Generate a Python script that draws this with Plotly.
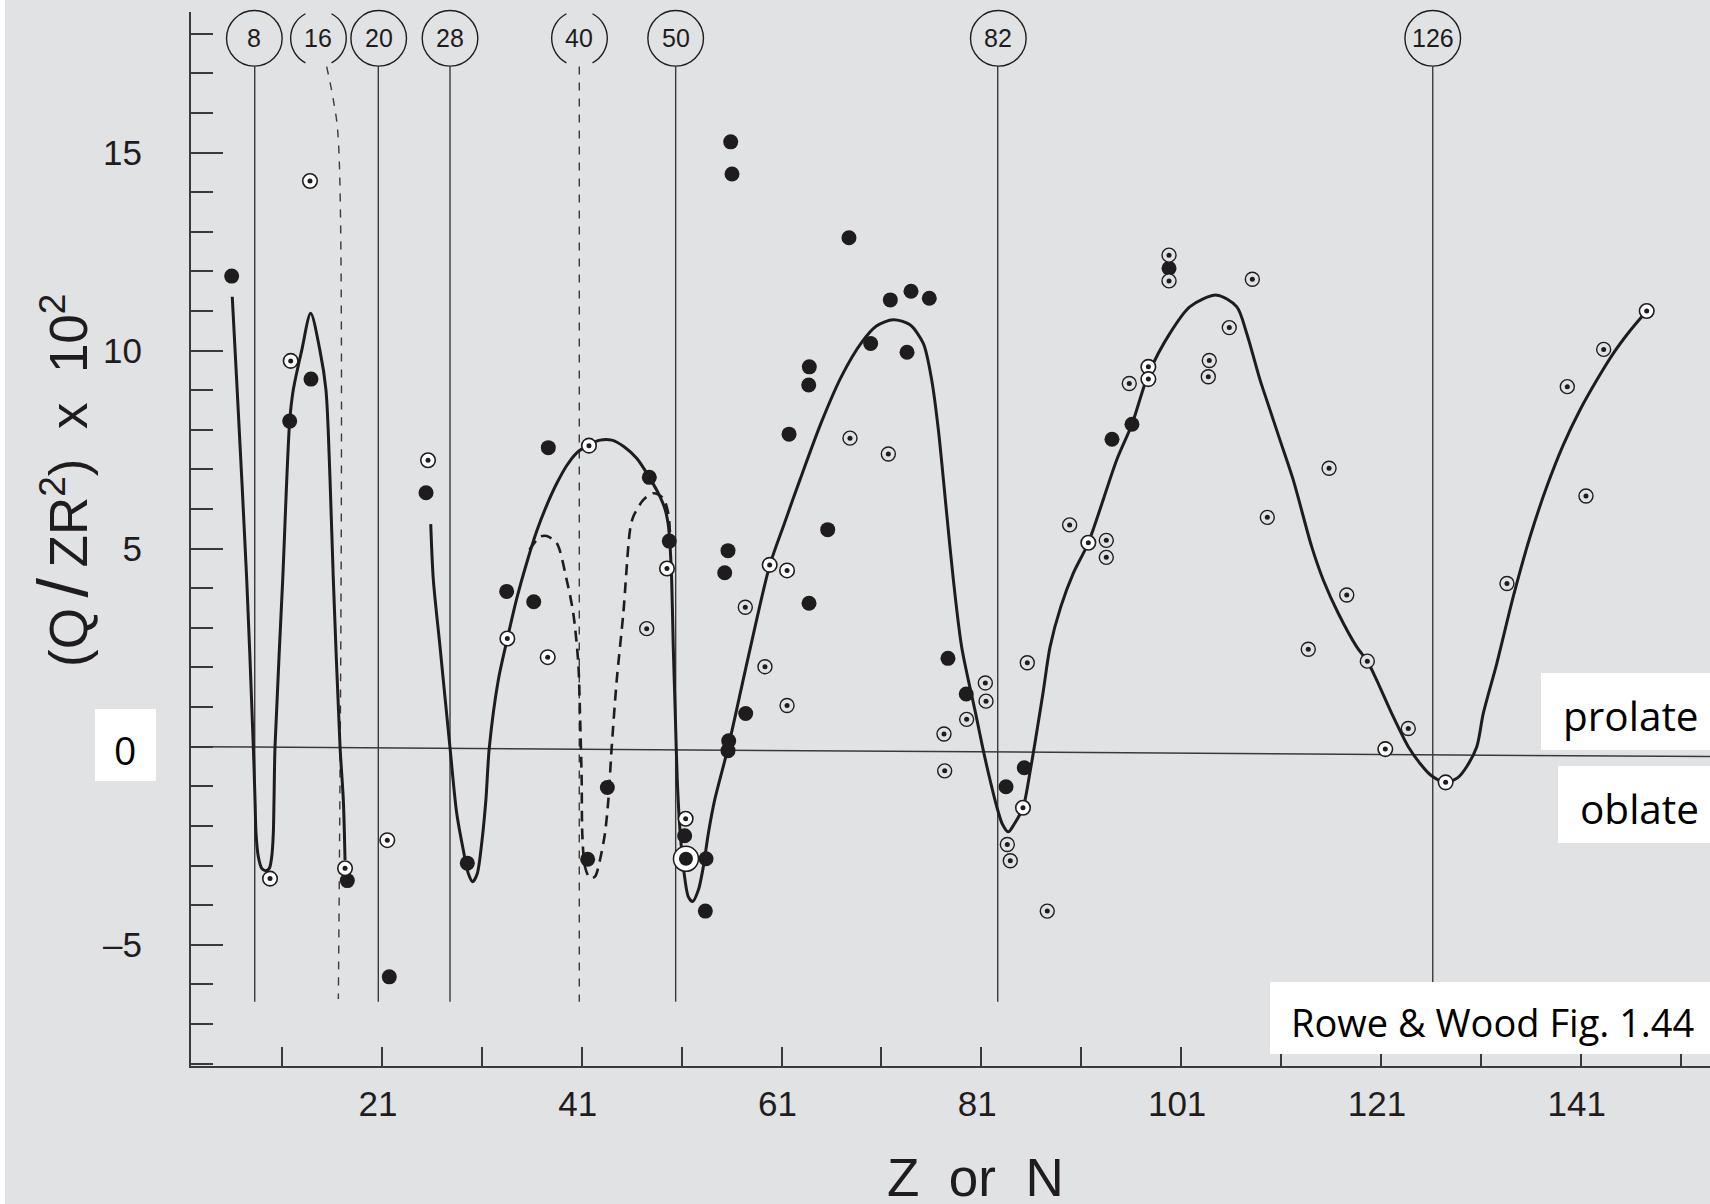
import math
import plotly.graph_objects as go

# ---------------- data ----------------
filled_x = [5.95, 13.89, 11.76, 25.41, 17.53, 21.73, 37.65, 47.76, 49.76, 33.48,
            36.19, 43.56, 55.64, 55.31, 63.75, 57.41, 55.71, 55.64, 63.72, 63.78,
            61.75, 65.62, 55.91, 56.04, 67.75, 29.54, 41.59, 51.30, 53.44, 53.37,
            71.89, 73.96, 75.79, 69.92, 73.56, 99.79, 96.08, 94.08, 77.66, 79.49,
            85.30, 83.47]
filled_y = [11.88, 9.28, 8.22, 6.41, -3.38, -5.81, 7.55, 6.80, 5.19, 3.92,
            3.66, -1.03, 4.95, 4.39, 3.62, 0.84, 0.15, -0.10, 9.13, 9.59,
            7.89, 5.48, 15.27, 14.46, 12.85, -2.94, -2.84, -2.25, -2.83, -4.15,
            11.28, 11.50, 11.32, 10.18, 9.96, 12.08, 8.14, 7.76, 2.23, 1.33,
            -0.53, -1.01]

open_white_x = [13.79, 11.86, 9.79, 17.30, 21.53, 25.61, 41.72, 49.53, 33.55, 37.59,
                51.40, 59.81, 61.55, 97.72, 97.72, 91.71, 85.17, 147.61, 121.44, 127.48]
open_white_y = [14.28, 9.74, -3.33, -3.07, -2.36, 7.23, 7.60, 4.50, 2.73, 2.26,
                -1.82, 4.59, 4.45, 9.59, 9.28, 5.15, -1.54, 11.00, -0.06, -0.90]

open_plain_x = [47.50, 57.37, 59.34, 61.55, 67.85, 71.69, 99.79, 99.79, 108.13, 105.82,
                103.82, 103.72, 95.81, 89.84, 93.51, 93.51, 109.63, 81.40, 81.47, 79.53,
                77.26, 77.33, 85.60, 83.60, 83.90, 87.60, 143.30, 139.66, 141.53, 115.81,
                117.58, 113.73, 119.64, 123.74, 133.62]
open_plain_y = [2.98, 3.52, 2.02, 1.04, 7.79, 7.39, 12.41, 11.76, 11.80, 10.58,
                9.75, 9.34, 9.17, 5.60, 5.21, 4.78, 5.79, 1.61, 1.15, 0.69,
                0.32, -0.61, 2.12, -2.47, -2.88, -4.15, 10.03, 9.09, 6.33, 7.03,
                3.83, 2.46, 2.16, 0.46, 4.12]

big_x = [51.43]
big_y = [-2.83]

curve_a_x = [6.01, 6.45, 7.46, 8.12, 8.29, 8.39, 8.62, 8.96, 9.36, 9.72, 9.96, 10.12,
             10.19, 10.29, 11.06, 11.76, 12.12, 12.96, 13.86, 14.79, 15.39, 15.80,
             16.13, 16.80, 17.13, 17.30]
curve_a_y = [11.36, 9.26, 4.21, 0.0, -1.35, -2.19, -2.78, -3.07, -3.13, -3.07, -2.78, -2.19,
             -1.35, 0.0, 4.21, 8.22, 9.01, 10.0, 10.94, 10.0, 9.01, 6.73,
             4.21, 0.0, -1.35, -2.86]

curve_b_x = [25.88, 26.14, 26.81, 27.81, 28.48, 29.14, 29.64, 30.08, 30.54, 30.98, 31.40,
             31.74, 32.64, 33.55, 34.50, 35.50, 36.50, 37.50, 38.50, 39.50, 40.50, 41.72,
             42.83, 44.00, 45.20, 46.50, 47.76, 48.66, 49.33, 49.66, 49.83, 50.00, 50.16,
             50.36, 50.56, 50.83, 51.20, 51.67, 52.10, 52.67, 53.17, 53.67, 54.30, 55.67,
             57.70, 59.83, 61.30, 62.83, 65.00, 67.00, 69.00, 70.50, 72.19, 73.86, 75.19,
             76.03, 76.70, 77.53, 78.20, 79.03, 80.43, 81.20, 81.87, 82.54, 83.10, 83.70,
             84.30, 85.17, 85.90, 86.50, 87.20, 87.88, 88.95, 90.21, 91.71, 94.55, 96.08,
             97.72, 99.89, 101.89, 104.56, 106.56, 107.56, 108.90, 109.57, 110.90, 112.23,
             114.07, 115.23, 116.73, 118.58, 119.64, 120.58, 122.08, 123.74, 124.91,
             126.00, 127.48, 128.70, 129.60, 130.60, 131.25, 132.60, 134.25, 135.93,
             137.60, 139.26, 140.93, 142.60, 144.27, 145.94, 147.61]
curve_b_y = [5.62, 4.21, 2.52, -0.03, -1.68, -2.61, -3.20, -3.41, -3.20, -2.44, -1.35,
             -0.03, 1.68, 2.73, 3.75, 4.65, 5.45, 6.10, 6.65, 7.10, 7.42, 7.62,
             7.74, 7.74, 7.58, 7.28, 6.80, 6.40, 6.00, 5.60, 5.10, 4.21, 2.52,
             0.84, -0.84, -2.10, -3.10, -3.79, -3.91, -3.62, -3.03, -2.19, -1.35, 0.0,
             2.30, 4.59, 5.65, 6.73, 8.20, 9.35, 10.20, 10.62, 10.78, 10.65, 10.18,
             9.26, 8.00, 5.89, 4.21, 2.52, 0.84, -0.10, -0.84, -1.51, -1.95, -2.15,
             -1.95, -1.54, -0.60, 0.30, 1.40, 2.52, 3.53, 4.38, 5.15, 7.24, 8.14,
             9.40, 10.44, 11.11, 11.40, 11.11, 10.44, 9.26, 8.75, 7.74, 6.73,
             5.05, 4.21, 3.37, 2.52, 2.16, 1.68, 0.84, 0.0, -0.42,
             -0.72, -0.90, -0.78, -0.50, 0.0, 0.84, 2.10, 3.79, 5.30,
             6.56, 7.62, 8.50, 9.25, 9.93, 10.50, 11.00]

dash_curve_x = [35.76, 36.82, 37.49, 38.49, 39.49, 40.15, 40.65, 40.82, 40.99, 41.05,
                41.32, 41.82, 42.32, 42.82, 43.32, 43.66, 44.00, 44.50, 45.16, 45.83,
                46.16, 47.16, 48.16, 49.16, 49.66, 49.83]
dash_curve_y = [4.97, 5.30, 5.32, 5.14, 4.21, 3.37, 2.11, 0.84, -0.84, -2.19,
                -3.03, -3.32, -3.28, -2.86, -2.19, -1.35, 0.0, 1.68, 3.37, 5.47,
                5.81, 6.23, 6.40, 6.27, 5.89, 5.39]

magic_labels = ["8", "16", "20", "28", "40", "50", "82", "126"]
magic_label_x = [8.22, 14.64, 20.67, 27.81, 40.77, 50.40, 82.70, 126.19]
magic_line_x = [8.26, None, 20.63, 27.81, 40.75, 50.40, 82.64, 126.19]
magic_dashed = [False, True, False, False, True, False, False, False]
magic_line_top = 17.17
magic_line_bottom = -6.44
dash16_x = [15.46, 16.13, 16.63, 16.63]
dash16_y = [17.17, 16.33, 15.32, -6.37]

shape_line_y = [0.0, -0.25]   # prolate / oblate dividing line (left end, right end)

y_tick_vals = [-5, 5, 10, 15]
y_tick_text = ["\u20135", "5", "10", "15"]
x_tick_vals = [21, 41, 61, 81, 101, 121, 141]
x_tick_text = ["21", "41", "61", "81", "101", "121", "141"]

# ---------------- layout geometry ----------------
W, H = 1710, 1204
ML, MR, MT, MB = 191, 0, 12, 138
X_RANGE = [1.880, 153.946]
Y_RANGE = [-8.061, 18.548]
PW = W - ML - MR
PH = H - MT - MB

INK = "#1f1c1d"
AXC = "#3a3a3a"
BG = "#e1e2e4"
HELV = "Liberation Sans, Arial, sans-serif"
CAL = "Open Sans, sans-serif"


def px_x(px):
    return (px - ML) / PW


def px_y(py):
    return (H - MB - py) / PH


def arc_path(r, a0, a1, nseg=2):
    """SVG cubic-bezier path for a circular arc (pixels, relative to anchor)."""
    step = (a1 - a0) / nseg
    k = 4.0 / 3.0 * math.tan(math.radians(step) / 4.0) * r

    def pt(a):
        return r * math.cos(math.radians(a)), r * math.sin(math.radians(a))
    x, y = pt(a0)
    d = f"M{x:.2f},{y:.2f}"
    a = a0
    for _ in range(nseg):
        b = a + step
        x0, y0 = pt(a)
        x3, y3 = pt(b)
        c1 = (x0 - k * math.sin(math.radians(a)), y0 + k * math.cos(math.radians(a)))
        c2 = (x3 + k * math.sin(math.radians(b)), y3 - k * math.cos(math.radians(b)))
        d += f" C{c1[0]:.2f},{c1[1]:.2f} {c2[0]:.2f},{c2[1]:.2f} {x3:.2f},{y3:.2f}"
        a = b
    return d


fig = go.Figure()

# magic-number vertical lines
for lx, dashed in zip(magic_line_x, magic_dashed):
    if lx is None:
        continue
    fig.add_trace(go.Scatter(
        x=[lx, lx], y=[magic_line_top, magic_line_bottom], mode="lines",
        line=dict(color=AXC, width=1.4, dash="8px,8px" if dashed else "solid"),
        hoverinfo="skip", showlegend=False))
fig.add_trace(go.Scatter(
    x=dash16_x, y=dash16_y, mode="lines",
    line=dict(color=AXC, width=1.4, dash="8px,8px", shape="spline"),
    hoverinfo="skip", showlegend=False))

# prolate / oblate line
fig.add_trace(go.Scatter(
    x=X_RANGE, y=shape_line_y, mode="lines",
    line=dict(color=AXC, width=1.5), hoverinfo="skip", showlegend=False))

# curves
for cx, cy in ((curve_a_x, curve_a_y), (curve_b_x, curve_b_y)):
    fig.add_trace(go.Scatter(
        x=cx, y=cy, mode="lines",
        line=dict(color=INK, width=3, shape="spline", smoothing=0.8),
        hoverinfo="skip", showlegend=False))
fig.add_trace(go.Scatter(
    x=dash_curve_x, y=dash_curve_y, mode="lines",
    line=dict(color=INK, width=2.6, shape="spline", smoothing=0.8, dash="11px,7px"),
    hoverinfo="skip", showlegend=False))

# markers
fig.add_trace(go.Scatter(
    x=filled_x, y=filled_y, mode="markers",
    marker=dict(symbol="circle", size=15, color=INK, line=dict(width=0)),
    showlegend=False))
fig.add_trace(go.Scatter(
    x=open_plain_x, y=open_plain_y, mode="markers",
    marker=dict(symbol="circle", size=14, color=BG, line=dict(width=1.4, color=INK)),
    showlegend=False))
fig.add_trace(go.Scatter(
    x=open_white_x, y=open_white_y, mode="markers",
    marker=dict(symbol="circle", size=14.5, color="white", line=dict(width=1.6, color=INK)),
    showlegend=False))
fig.add_trace(go.Scatter(
    x=open_plain_x + open_white_x, y=open_plain_y + open_white_y, mode="markers",
    marker=dict(symbol="circle", size=5, color=INK, line=dict(width=0)),
    showlegend=False))
fig.add_trace(go.Scatter(
    x=big_x, y=big_y, mode="markers",
    marker=dict(symbol="circle", size=25, color="white", line=dict(width=1.5, color=INK)),
    showlegend=False))
fig.add_trace(go.Scatter(
    x=big_x, y=big_y, mode="markers",
    marker=dict(symbol="circle", size=14, color=INK, line=dict(width=0)),
    showlegend=False))

shapes = []
annotations = []

# white strip on far left
shapes.append(dict(type="rect", xref="paper", yref="paper",
                   x0=px_x(0), x1=px_x(5), y0=px_y(H), y1=px_y(0),
                   fillcolor="white", line=dict(width=0), layer="below"))

# magic number circles / parentheses + labels
CY = px_y(38.3)
R = 27.8
for lab, lx, dashed in zip(magic_labels, magic_label_x, magic_dashed):
    if not dashed:
        shapes.append(dict(type="circle", xref="x", yref="paper",
                           xsizemode="pixel", ysizemode="pixel",
                           xanchor=lx, yanchor=CY, x0=-R, x1=R, y0=-R, y1=R,
                           line=dict(color=INK, width=1.4), fillcolor="rgba(0,0,0,0)"))
    else:
        for a0, a1 in ((118, 242), (-62, 62)):
            shapes.append(dict(type="path", xref="x", yref="paper",
                               xsizemode="pixel", ysizemode="pixel",
                               xanchor=lx, yanchor=CY, path=arc_path(R, a0, a1),
                               line=dict(color=INK, width=1.4)))
    annotations.append(dict(x=lx, xref="x", y=CY, yref="paper", text=lab,
                            showarrow=False, xanchor="center", yanchor="middle",
                            font=dict(family=HELV, size=25, color=INK)))


# white label boxes
def box(x0, y0, x1, y1):
    shapes.append(dict(type="rect", xref="paper", yref="paper",
                       x0=px_x(x0), x1=px_x(x1), y0=px_y(y1), y1=px_y(y0),
                       fillcolor="white", line=dict(width=0), layer="above"))


box(95, 709, 156, 781)
box(1541, 673, 1710, 750)
box(1558, 766, 1710, 843)
box(1270, 982, 1710, 1054)

annotations += [
    dict(x=px_x(125), y=px_y(749), xref="paper", yref="paper", text="0",
         showarrow=False, xanchor="center", yanchor="middle",
         font=dict(family=CAL, size=39, color="black")),
    dict(x=px_x(1701), y=px_y(715.5), xref="paper", yref="paper", text="prolate",
         showarrow=False, xanchor="right", yanchor="middle",
         font=dict(family=CAL, size=40.5, color="black")),
    dict(x=px_x(1701), y=px_y(808.8), xref="paper", yref="paper", text="oblate",
         showarrow=False, xanchor="right", yanchor="middle",
         font=dict(family=CAL, size=40.5, color="black")),
    dict(x=px_x(1492), y=px_y(1021.7), xref="paper", yref="paper",
         text="Rowe &amp; Wood Fig. 1.44",
         showarrow=False, xanchor="center", yanchor="middle",
         font=dict(family=CAL, size=38, color="black")),
    dict(x=px_x(975.5), y=px_y(1177), xref="paper", yref="paper",
         text="Z\u00a0\u00a0or\u00a0\u00a0N",
         showarrow=False, xanchor="center", yanchor="middle",
         font=dict(family=HELV, size=53, color=INK)),
    dict(x=px_x(63), y=px_y(481), xref="paper", yref="paper",
         text="(Q\u2009<span style='font-size:70px'>/</span>\u2009ZR<sup>2</sup>)\u00a0\u00a0x\u00a0\u00a010<sup>2</sup>",
         textangle=-90, showarrow=False, xanchor="center", yanchor="middle",
         font=dict(family=HELV, size=53, color=INK)),
]

fig.update_layout(
    width=W, height=H,
    margin=dict(l=ML, r=MR, t=MT, b=MB, pad=0),
    paper_bgcolor=BG, plot_bgcolor=BG,
    showlegend=False,
    shapes=shapes, annotations=annotations,
    xaxis=dict(range=X_RANGE, showgrid=False, zeroline=False,
               showline=True, linecolor=AXC, linewidth=2,
               tickmode="array", tickvals=x_tick_vals, ticktext=x_tick_text,
               ticks="inside", ticklen=19, tickwidth=1.5, tickcolor=AXC,
               ticklabelstandoff=6, ticklabelshift=-4,
               tickfont=dict(family=HELV, size=35, color=INK),
               minor=dict(tickmode="linear", tick0=11, dtick=10, ticks="inside",
                          ticklen=19, tickwidth=1.5, tickcolor=AXC, showgrid=False)),
    yaxis=dict(range=Y_RANGE, showgrid=False, zeroline=False,
               showline=True, linecolor=AXC, linewidth=2,
               tickmode="array", tickvals=y_tick_vals, ticktext=y_tick_text,
               ticks="inside", ticklen=32, tickwidth=1.5, tickcolor=AXC,
               ticklabelstandoff=40,
               tickfont=dict(family=HELV, size=35, color=INK),
               minor=dict(tickmode="linear", tick0=0, dtick=1, ticks="inside",
                          ticklen=22, tickwidth=1.5, tickcolor=AXC, showgrid=False)),
)

fig.write_html("out.html")
